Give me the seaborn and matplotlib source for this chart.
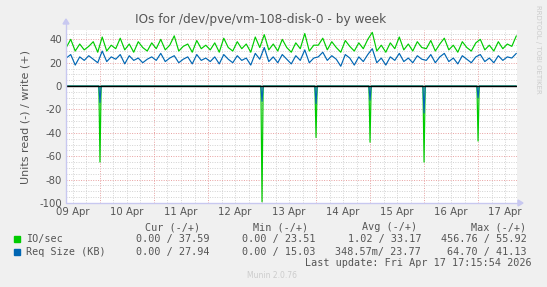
import numpy as np
import pandas as pd
import matplotlib
matplotlib.use("Agg")
import matplotlib.pyplot as plt
import seaborn as sns

# ---------------- data ----------------
day_labels = ["09 Apr", "10 Apr", "11 Apr", "12 Apr", "13 Apr",
              "14 Apr", "15 Apr", "16 Apr", "17 Apr"]
start_hour = 9      # first sample: 09 Apr 09:00
step_hours = 2      # sample spacing (hours)

# write IO/sec (+)
write_io = [33, 40, 30, 36, 31, 34, 38, 29,
            42, 30, 35, 32, 41, 31, 36, 29, 38, 33, 30, 37,
            32, 40, 31, 35, 43, 30, 34, 36, 29, 39, 32, 35,
            31, 37, 29, 41, 33, 30, 38, 32, 36, 29, 42, 33,
            44, 31, 36, 30, 40, 33, 29, 37, 32, 45, 30, 35,
            35, 41, 31, 38, 33, 29, 39, 34, 30, 37, 32, 40,
            46, 30, 35, 29, 37, 32, 42, 31, 36, 30, 38, 33,
            32, 39, 30, 36, 41, 31, 35, 29, 38, 33, 30, 37,
            40, 31, 35, 30, 38, 32, 36, 34, 43]
# write request size KB (+)
write_size = [24, 27, 18, 25, 22, 26, 23, 20,
              30, 21, 25, 23, 27, 19, 26, 22, 24, 20, 23, 25,
              22, 28, 21, 24, 26, 20, 23, 25, 19, 27, 22, 24,
              21, 25, 19, 27, 23, 20, 26, 22, 24, 18, 28, 23,
              33, 21, 25, 20, 27, 23, 19, 26, 22, 31, 20, 24,
              25, 29, 22, 26, 23, 17, 27, 24, 18, 25, 21, 27,
              32, 20, 24, 18, 25, 22, 28, 21, 24, 20, 26, 23,
              22, 27, 20, 25, 28, 21, 24, 19, 26, 23, 20, 25,
              27, 21, 24, 20, 26, 22, 25, 24, 28]
# read spikes (-), at midnight of these days
read_days = ["10 Apr", "13 Apr", "14 Apr", "15 Apr", "16 Apr", "17 Apr"]
read_io = [65, 99, 44, 48, 65, 47]
read_size = [14, 13, 15, 12, 23, 10]

legend_names = ["IO/sec", "Req Size (KB)"]
cur_txt = ["0.00 / 37.59", "0.00 / 27.94"]
min_txt = ["0.00 / 23.51", "0.00 / 15.03"]
avg_txt = ["1.02 / 33.17", "348.57m/ 23.77"]
max_txt = ["456.76 / 55.92", "64.70 / 41.13"]

GREEN = "#00CC00"
BLUE = "#0066B3"
TXT = "#555555"

# ---------------- frames ----------------
t_write = [start_hour + step_hours * i for i in range(len(write_io))]
df_w = pd.DataFrame({"t": t_write, "io": write_io, "size": write_size})

rt, rio, rsz = [start_hour], [0.0], [0.0]
for d, a, b in zip(read_days, read_io, read_size):
    h = 24 * day_labels.index(d)
    rt += [h - 0.5, h, h + 0.5]
    rio += [0.0, -a, 0.0]
    rsz += [0.0, -b, 0.0]
rt.append(t_write[-1]); rio.append(0.0); rsz.append(0.0)
df_r = pd.DataFrame({"t": rt, "io": rio, "size": rsz})

# ---------------- figure ----------------
sns.set_theme(style="white")
plt.rcParams["font.family"] = ["DejaVu Sans"]
W, H = 547, 287
fig = plt.figure(figsize=(W / 100, H / 100), dpi=100, facecolor="#F0F0F0")
L, R, T, B = 66, 517, 30, 203
ax = fig.add_axes([L / W, 1 - B / H, (R - L) / W, (B - T) / H])
ax.set_facecolor("white")

xmin, xmax = 8.9, 209.3
ymin, ymax = -100, 48
ax.set_xlim(xmin, xmax)
ax.set_ylim(ymin, ymax)

# grid
for h in np.arange(0, 216, 6):
    if xmin < h < xmax:
        col = "#E8A0A0" if h % 24 == 0 else "#D2D2D2"
        ax.axvline(h, color=col, lw=0.7, ls=(0, (1, 1.5)), zorder=0)
for v in np.arange(-100, 50, 5):
    if ymin < v < ymax:
        col = "#E8A0A0" if v % 20 == 0 else "#D2D2D2"
        ax.axhline(v, color=col, lw=0.7, ls=(0, (1, 1.5)), zorder=0)

LW = 0.85
sns.lineplot(data=df_w, x="t", y="io", color=GREEN, lw=LW, ax=ax, zorder=3)
sns.lineplot(data=df_r, x="t", y="io", color=GREEN, lw=LW, ax=ax, zorder=3)
sns.lineplot(data=df_w, x="t", y="size", color=BLUE, lw=LW, ax=ax, zorder=4)
sns.lineplot(data=df_r, x="t", y="size", color=BLUE, lw=LW, ax=ax, zorder=4)
ax.axhline(0, color="black", lw=1.0, zorder=5)

ax.set_xticks([12 + 24 * i for i in range(len(day_labels))])
ax.set_xticklabels(day_labels)
ax.set_yticks(np.arange(-100, 41, 20))
ax.set_yticklabels([str(v) for v in range(-100, 41, 20)])
ax.tick_params(axis="both", length=0, labelsize=7.3, colors=TXT, pad=3)
ax.set_xlabel("")
ax.set_ylabel("Units read (-) / write (+)", fontsize=8, color=TXT, labelpad=6)
for s in ax.spines.values():
    s.set_visible(False)

# axes with arrows
AX_COL = "#C8C8F0"
fig.add_artist(plt.Line2D([L / W, (R + 2) / W], [1 - B / H] * 2, color=AX_COL, lw=1))
fig.add_artist(plt.Line2D([L / W] * 2, [1 - B / H, 1 - (T - 6) / H], color=AX_COL, lw=1))
fig.add_artist(plt.Polygon([[(R + 1) / W, 1 - (B - 3) / H], [(R + 1) / W, 1 - (B + 3) / H],
                            [(R + 6) / W, 1 - B / H]], closed=True, color=AX_COL))
fig.add_artist(plt.Polygon([[(L - 3) / W, 1 - (T - 6) / H], [(L + 3) / W, 1 - (T - 6) / H],
                            [L / W, 1 - (T - 11) / H]], closed=True, color=AX_COL))

# title and side text
fig.text(261 / W, 1 - 19 / H, "IOs for /dev/pve/vm-108-disk-0 - by week",
         ha="center", va="center", fontsize=8.7, color=TXT)
fig.text(538 / W, 1 - 5 / H, "RRDTOOL / TOBI OETIKER", rotation=270,
         ha="center", va="top", fontsize=5.0, color="#CCCCCC")

# legend
MONO = "DejaVu Sans Mono"
fs = 7.25
def px(x, y, s, ha="left", **kw):
    fig.text(x / W, 1 - y / H, s, ha=ha, va="center", fontsize=fs,
             family=MONO, color=TXT, **kw)

px(200, 227, "Cur (-/+)", ha="right")
px(308, 227, "Min (-/+)", ha="right")
px(417, 227, "Avg (-/+)", ha="right")
px(526, 227, "Max (-/+)", ha="right")
for i, (col, yy) in enumerate(zip([GREEN, BLUE], [239, 252])):
    fig.add_artist(plt.Rectangle((14 / W, 1 - (yy + 3) / H), 6 / W, 6 / H, color=col))
    px(26, yy, legend_names[i])
    px(209, yy, cur_txt[i], ha="right")
    px(315, yy, min_txt[i], ha="right")
    px(421, yy, avg_txt[i], ha="right")
    px(527, yy, max_txt[i], ha="right")
px(532, 263, "Last update: Fri Apr 17 17:15:54 2026", ha="right")
fig.text(272 / W, 1 - 276 / H, "Munin 2.0.76", ha="center", va="center",
         fontsize=5.5, color="#CCCCCC")

fig.savefig("out.png", dpi=100, facecolor=fig.get_facecolor())
